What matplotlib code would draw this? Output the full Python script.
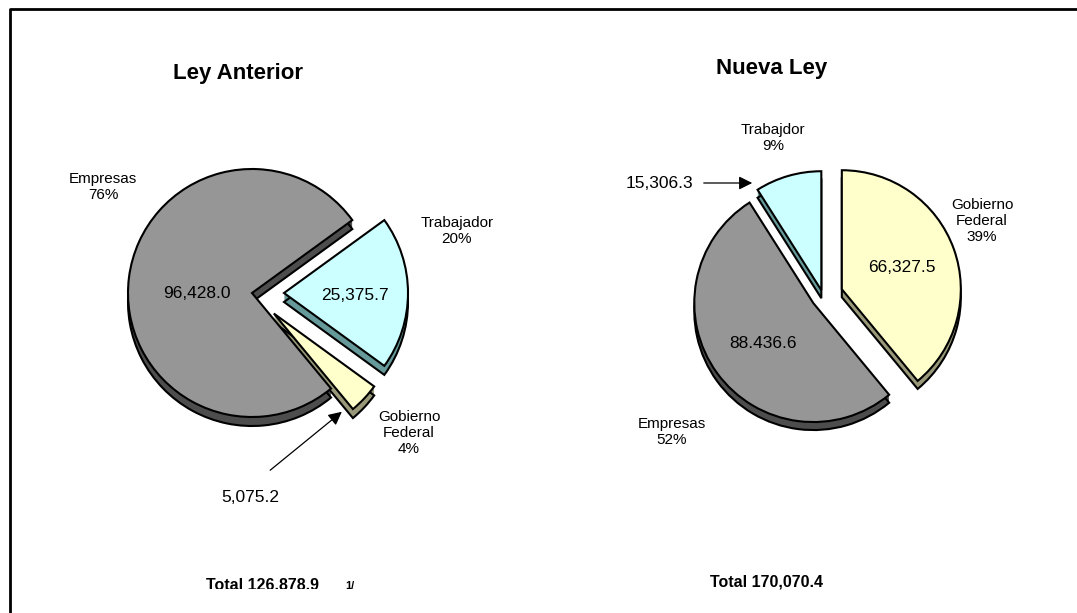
import matplotlib
matplotlib.use("Agg")
import matplotlib.pyplot as plt
from matplotlib.transforms import Bbox, TransformedBbox

"""
Aportaciones por sector: Ley Anterior vs Nueva Ley (pies 3D estilo Excel)
"""

W, H = 1077, 613

# Ley Anterior
old_names = ['Trabajador', 'Empresas', 'Gobierno\nFederal']
old_values = [25375.7, 96428.0, 5075.2]

# Nueva Ley
new_names = ['Trabajdor', 'Gobierno\nFederal', 'Empresas']
new_values = [15306.3, 66327.5, 88436.6]
new_value_text = ['15,306.3', '66,327.5', '88.436.6']

old_colors = ['#CCFFFF', '#969696', '#FFFFCC']
old_sides = ['#669999', '#4D4D4D', '#99997A']
new_colors = ['#CCFFFF', '#FFFFCC', '#969696']
new_sides = ['#669999', '#99997A', '#4D4D4D']

plt.rcParams['font.family'] = ['Liberation Sans', 'DejaVu Sans']


def Y(y):
    # image rows (top-down) -> axes units (bottom-up)
    return H - y


def pie3d(ax, values, colors, sides, explode, center, radius, depth, **kw):
    cx, cy = center
    for k in range(depth, 0, -1):
        ax.pie(values, colors=sides, explode=explode, center=(cx, cy - k),
               radius=radius, wedgeprops=dict(edgecolor='none', linewidth=0), **kw)
    ax.pie(values, colors=sides, explode=explode, center=(cx, cy - depth),
           radius=radius, wedgeprops=dict(edgecolor='black', linewidth=1.5), **kw)
    wedges, _ = ax.pie(values, colors=colors, explode=explode, center=center,
                       radius=radius, wedgeprops=dict(edgecolor='black', linewidth=1.5), **kw)
    return wedges


fig = plt.figure(figsize=(W / 100, H / 100), dpi=100)
ax = fig.add_axes([0, 0, 1, 1])

# left pie (explode in pixels: pie() offsets by the raw explode value)
pie3d(ax, old_values, old_colors, old_sides, explode=[32, 0, 30],
      center=(252, Y(293)), radius=124, depth=9, startangle=-36, counterclock=True)

# right pie
pie3d(ax, new_values, new_colors, new_sides, explode=[6, 20, 12],
      center=(823, Y(296)), radius=119, depth=8, startangle=90 + 360 * new_values[0] / sum(new_values),
      counterclock=False)

ax.set_xlim(0, W)
ax.set_ylim(0, H)
ax.set_aspect('equal')
ax.axis('off')

old_total = sum(old_values)
new_total = sum(new_values)
old_pct = [f"{v / old_total:.0%}" for v in old_values]
new_pct = [f"{v / new_total:.0%}" for v in new_values]

lab = dict(ha='center', va='center', fontsize=11)
val = dict(ha='center', va='center', fontsize=12.5)

# titles
ax.text(238, Y(79), 'Ley Anterior', ha='center', va='baseline', fontsize=16, fontweight='bold')
ax.text(772, Y(74), 'Nueva Ley', ha='center', va='baseline', fontsize=16, fontweight='bold')

# left labels
ax.text(457, Y(231), f"{old_names[0]}\n{old_pct[0]}", **lab)
ax.text(103, Y(187), f"{old_names[1]}\n{old_pct[1]}", **lab)
ax.text(409, Y(433), f"{old_names[2]}\n{old_pct[2]}", **lab)
ax.text(355, Y(295), f"{old_values[0]:,.1f}", **val)
ax.text(197, Y(293), f"{old_values[1]:,.1f}", **val)
ax.text(250, Y(497), f"{old_values[2]:,.1f}", **val)
ax.annotate('', xy=(344, Y(410)), xytext=(268, Y(472)),
            arrowprops=dict(arrowstyle='-|>', color='black', lw=0.9, mutation_scale=20))

# right labels
ax.text(773, Y(138), f"{new_names[0]}\n{new_pct[0]}", **lab)
ax.text(982, Y(221), f"{new_names[1]}\n{new_pct[1]}", **lab)
ax.text(672, Y(432), f"{new_names[2]}\n{new_pct[2]}", **lab)
ax.text(659, Y(183), new_value_text[0], **val)
ax.text(902, Y(268), new_value_text[1], **val)
ax.text(763, Y(343), new_value_text[2], **val)
ax.annotate('', xy=(755, Y(183)), xytext=(701, Y(183)),
            arrowprops=dict(arrowstyle='-|>', color='black', lw=0.9, mutation_scale=20))

# totals (left one is cut at the bottom in the original)
clip = TransformedBbox(Bbox([[0, Y(589)], [W, H]]), ax.transData)
t1 = ax.text(263, Y(585), f"Total {old_total:,.1f}", ha='center', va='center',
             fontsize=11.5, fontweight='bold')
t2 = ax.text(350, Y(586), '1/', ha='center', va='center', fontsize=8, fontweight='bold')
for t in (t1, t2):
    t.set_clip_on(True)
    t.set_clip_box(clip)
ax.text(767, Y(582), f"Total {new_total:,.1f}", ha='center', va='center',
        fontsize=11.5, fontweight='bold')

# frame (only top and left edges visible)
ax.plot([10, 10, W], [0, Y(9), Y(9)], color='black', lw=2, clip_on=False)

fig.savefig('out.png', dpi=100)
